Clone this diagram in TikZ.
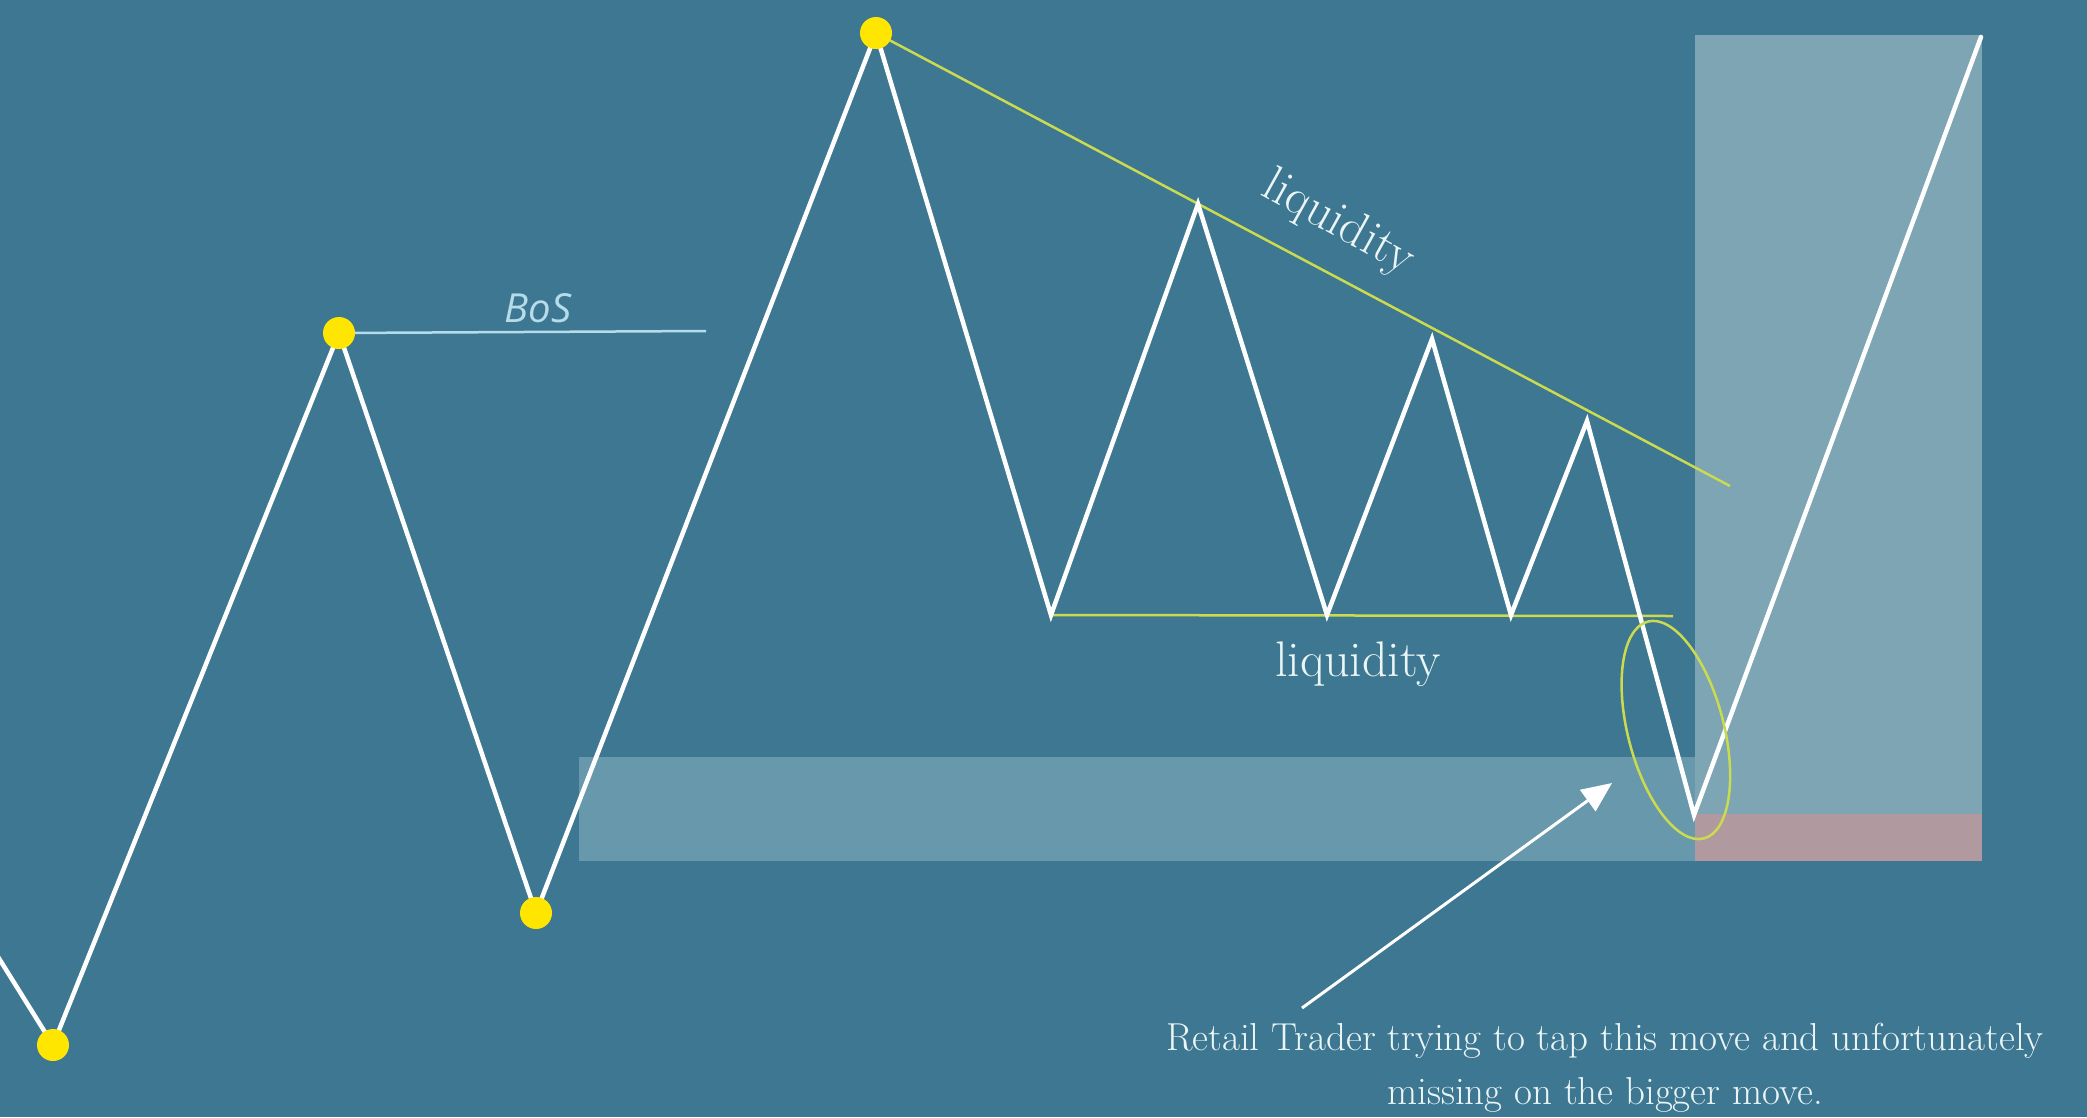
\documentclass[tikz,border=0pt]{standalone}
\usepackage{fontspec}
\setsansfont{Open Sans}
\usetikzlibrary{arrows.meta}
\definecolor{bgc}{HTML}{3E7792}
\definecolor{demandc}{HTML}{6898AB}
\definecolor{tallc}{HTML}{7DA5B3}
\definecolor{pinkc}{HTML}{B09A9F}
\definecolor{dotc}{HTML}{FFE600}
\definecolor{trendc}{HTML}{CADB50}
\definecolor{bosc}{HTML}{B5DCEA}
\definecolor{txtc}{HTML}{EAF5F5}
\tikzset{
  price/.style={draw=white, line width=4.5pt, line join=miter, line cap=round},
  swingdot/.style={circle, fill=dotc, inner sep=0pt, minimum size=32pt},
  trend/.style={draw=trendc, line width=2.5pt},
  serifbig/.style={text=txtc, font=\fontsize{50}{56}\selectfont},
  captiontext/.style={text=txtc, align=center, font=\fontsize{39}{54}\selectfont}
}
\begin{document}
\begin{tikzpicture}[x=1pt, y=-1pt]
\useasboundingbox (0,0) rectangle (2087,1117);
\fill[bgc] (0,0) rectangle (2087,1117);
% zones
\fill[demandc] (579,757) rectangle (1695,861);
\fill[tallc] (1695,35) rectangle (1982,861);
\fill[pinkc] (1695,814) rectangle (1982,861);
% swing points
\coordinate (s0) at (-5,952);
\coordinate (l1) at (53,1045);
\coordinate (p1) at (339,333);
\coordinate (l2) at (536,913);
\coordinate (p2) at (876,33);
\coordinate (l3) at (1051,615);
\coordinate (p3) at (1198,204);
\coordinate (l4) at (1327,615);
\coordinate (p4) at (1432,339);
\coordinate (l5) at (1511,615);
\coordinate (p5) at (1587,421);
\coordinate (l6) at (1694,815);
\coordinate (top) at (1981,37);
% BoS line
\coordinate (bosend) at (706,331);
\draw[bosc, line width=2.5pt] (p1) -- (bosend);
\node[text=bosc, font=\sffamily\itshape\fontsize{40}{46}\selectfont] (bos) at (538,308) {BoS};
% liquidity lines
\coordinate (trendend) at (1730,486);
\draw[trend] (p2) -- (trendend);
\coordinate (eqlend) at (1673,616);
\draw[trend] (l3) -- (eqlend);
% price path
\draw[price] (s0) -- (l1) -- (p1) -- (l2) -- (p2) -- (l3) -- (p3) -- (l4) -- (p4) -- (l5) -- (p5) -- (l6) -- (top);
% dots
\node[swingdot] (d1) at (l1) {};
\node[swingdot] (d2) at (p1) {};
\node[swingdot] (d3) at (l2) {};
\node[swingdot] (d4) at (p2) {};
% labels
\node[serifbig, rotate=-29] (liq1) at (1338,224) {liquidity};
\node[serifbig] (liq2) at (1358,664) {liquidity};
% ellipse
\coordinate (ec) at (1676,730);
\draw[trendc, line width=2.5pt, rotate around={14.5:(ec)}] (ec) ellipse [x radius=48pt, y radius=112pt];
% caption and arrow
\node[captiontext] (cap) at (1605,1068) {Retail Trader trying to tap this move and unfortunately\\missing on the bigger move.};
\coordinate (tail) at (1302,1008);
\coordinate (tip) at (1612,783);
\draw[white, line width=3pt, -{Triangle[length=30pt, width=26pt]}] (tail) -- (tip);
\end{tikzpicture}
\end{document}
